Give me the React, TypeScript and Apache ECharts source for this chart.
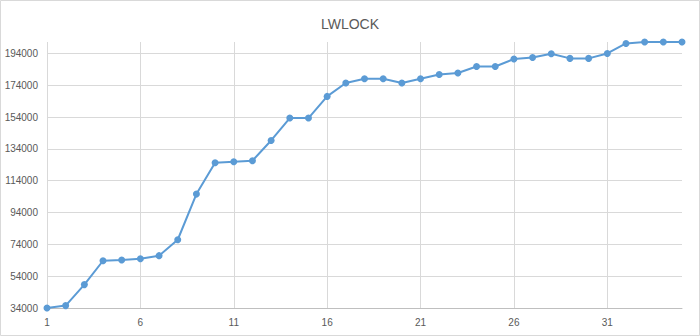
import React, { useEffect, useRef } from "react";
import * as echarts from "echarts";

const xValues = [
  1, 2, 3, 4, 5, 6, 7, 8, 9, 10, 11, 12, 13, 14, 15, 16, 17, 18, 19, 20, 21, 22,
  23, 24, 25, 26, 27, 28, 29, 30, 31, 32, 33, 34, 35,
];
const yValues = [
  34000, 35500, 48700, 63700, 64200, 65000, 66900, 76900, 105600, 125300,
  125900, 126600, 139300, 153400, 153400, 167000, 175400, 178100, 178100,
  175400, 178100, 180800, 181700, 185800, 185800, 190500, 191500, 193800,
  190900, 190900, 194000, 200300, 201200, 201200, 201200,
];
const titleText = "LWLOCK";
const yMin = 34000;
const yMax = 201200;
const yStep = 20000;
const xMin = 1;
const xMax = 35;
const xStep = 5;

export default function App() {
  const ref = useRef<HTMLDivElement>(null);
  useEffect(() => {
    if (!ref.current) return;
    const chart = echarts.init(ref.current, undefined, { renderer: "svg" });
    const font = "'Liberation Sans', Arial, sans-serif";
    chart.setOption({
      animation: false,
      backgroundColor: "#ffffff",
      title: {
        text: titleText,
        left: "center",
        top: 12,
        textStyle: {
          fontFamily: font,
          fontSize: 14,
          fontWeight: "normal",
          color: "#595959",
        },
      },
      graphic: [
        {
          type: "rect",
          shape: { x: 0.5, y: 0.5, width: 699, height: 335 },
          style: { fill: "none", stroke: "#d9d9d9", lineWidth: 1 },
          silent: true,
        },
      ],
      grid: { left: 47, right: 18, top: 42, bottom: 28, containLabel: false },
      xAxis: {
        type: "value",
        min: xMin,
        max: xMax,
        interval: xStep,
        axisLine: { show: true, lineStyle: { color: "#bfbfbf", width: 1 } },
        axisTick: { show: false },
        axisLabel: {
          showMaxLabel: false,
          formatter: (v: number) => String(v),
          color: "#595959",
          fontSize: 10,
          fontFamily: font,
          margin: 9,
        },
        splitLine: {
          show: true,
          showMaxLine: false,
          lineStyle: { color: "#d9d9d9", width: 1 },
        },
      },
      yAxis: {
        type: "value",
        min: yMin,
        max: yMax,
        interval: yStep,
        axisLine: { show: false },
        axisTick: { show: false },
        axisLabel: {
          showMaxLabel: false,
          formatter: (v: number) => String(v),
          color: "#595959",
          fontSize: 10,
          fontFamily: font,
          margin: 9,
        },
        splitLine: {
          show: true,
          showMaxLine: false,
          lineStyle: { color: "#d9d9d9", width: 1 },
        },
      },
      series: [
        {
          type: "line",
          data: xValues.map((x, i) => [x, yValues[i]]),
          symbol: "circle",
          symbolSize: 7,
          lineStyle: { color: "#5b9bd5", width: 2 },
          itemStyle: { color: "#5b9bd5" },
        },
      ],
    });
    return () => chart.dispose();
  }, []);
  return (
    <div
      ref={ref}
      style={{ position: "fixed", left: 0, top: 0, width: 700, height: 336 }}
    />
  );
}
